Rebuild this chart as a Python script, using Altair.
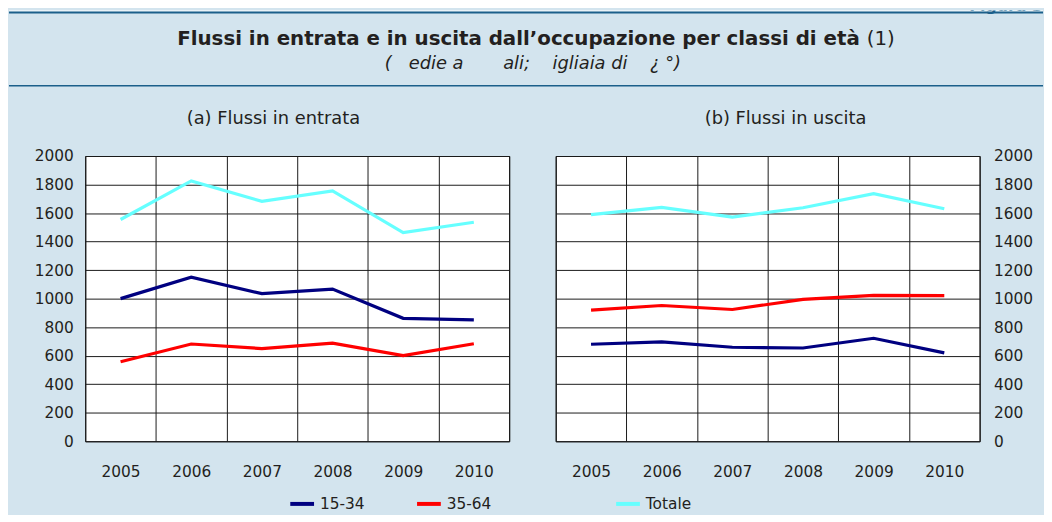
import altair as alt
import pandas as pd

# ---------------- data ----------------
years = ["2005", "2006", "2007", "2008", "2009", "2010"]
series = ["15-34", "35-64", "Totale"]

entrata_15_34 = [1000, 1150, 1035, 1067, 862, 851]
entrata_35_64 = [558, 682, 650, 688, 601, 684]
entrata_totale = [1555, 1825, 1682, 1755, 1463, 1536]

uscita_15_34 = [680, 697, 659, 654, 722, 620]
uscita_35_64 = [920, 952, 924, 995, 1023, 1021]
uscita_totale = [1589, 1640, 1572, 1637, 1736, 1630]

y_ticks = [0, 200, 400, 600, 800, 1000, 1200, 1400, 1600, 1800, 2000]
line_colors = ["#000080", "#FF0000", "#66FFFF"]

title_main = "Flussi in entrata e in uscita dall\u2019occupazione per classi di et\u00e0"
title_note = "(1)"
NB = "\u00a0"
subtitle = "(" + NB * 3 + "edie a" + NB * 7 + "ali;" + NB * 4 + "igliaia di" + NB * 4 + "\u00bf" + NB + "\u00b0)"
figura = "Figura 3"
panel_a = "(a) Flussi in entrata"
panel_b = "(b) Flussi in uscita"

rows = []
for pname, vals in [("entrata", [entrata_15_34, entrata_35_64, entrata_totale]),
                    ("uscita", [uscita_15_34, uscita_35_64, uscita_totale])]:
    for s, v in zip(series, vals):
        for yr, val in zip(years, v):
            rows.append({"pannello": pname, "serie": s, "anno": yr, "valore": val})
df = pd.DataFrame(rows)

# ---------------- style ----------------
FONT = "DejaVu Sans"
BLUE_BG = "#D3E4EE"
DARK = "#1B5F8A"
TXT = "#231F20"
GRID = "#1a1a1a"
FS = 15.5
LEFT_EXT = 77  # space left of the first panel's plot area

gap = NB * 15 + "\u200b"
color = alt.Color(
    "serie:N",
    scale=alt.Scale(domain=series, range=line_colors),
    legend=alt.Legend(
        title=None, orient="none", legendX=282 - LEFT_EXT, legendY=484, direction="horizontal",
        symbolType="stroke", symbolSize=576, symbolStrokeWidth=4,
        labelFontSize=FS, labelFont=FONT, labelColor=TXT, labelOffset=4,
        columnPadding=44, padding=0,
        labelExpr="datum.label == '35-64' ? '35-64" + gap + "' : datum.label",
    ),
)


def panel(name, title, dx, orient, extent, lpad):
    return (
        alt.Chart(df)
        .transform_filter(alt.datum.pannello == name)
        .mark_line(strokeWidth=3.2)
        .encode(
            x=alt.X(
                "anno:O",
                sort=years,
                scale=alt.Scale(type="band", paddingInner=0, paddingOuter=0),
                axis=alt.Axis(
                    title=None, labelAngle=0, tickBand="extent", grid=True, ticks=False,
                    tickSize=0, domain=False, labelPadding=24, labelFontSize=FS,
                    labelFont=FONT, labelColor=TXT, gridColor=GRID, gridWidth=1,
                    gridOpacity=1,
                ),
            ),
            y=alt.Y(
                "valore:Q",
                scale=alt.Scale(domain=[0, 2000], nice=False),
                axis=alt.Axis(
                    title=None, orient=orient, values=y_ticks, format="d", grid=True,
                    ticks=False, tickSize=0, domain=False, labelPadding=lpad,
                    labelFontSize=FS, labelFont=FONT, labelColor=TXT, gridColor=GRID,
                    gridWidth=1, gridOpacity=1, minExtent=extent, maxExtent=extent,
                ),
            ),
            color=color,
        )
        .properties(
            width=428,
            height=288,
            title=alt.TitleParams(
                title, fontSize=18, font=FONT, fontWeight="normal", color=TXT,
                offset=21, dx=dx, anchor="middle",
            ),
            view=alt.ViewBackground(fill="white", stroke="black", strokeWidth=1),
        )
    )


left = panel("entrata", panel_a, -24, "left", LEFT_EXT, 12)
right = panel("uscita", panel_b, 18, "right", 58, 14)

# ---------------- header ----------------
hd = alt.Data(values=[{}])
base = alt.Chart(hd)
W = 1044 - LEFT_EXT
X0 = -LEFT_EXT
white = base.mark_rect(color="white").encode(
    x=alt.value(X0), x2=alt.value(W), y=alt.value(0), y2=alt.value(1))
top_line = base.mark_rule(color=DARK, strokeWidth=2).encode(
    x=alt.value(X0), x2=alt.value(W), y=alt.value(2))
sep_line = base.mark_rule(color=DARK, strokeWidth=1.5).encode(
    x=alt.value(X0), x2=alt.value(W), y=alt.value(76))
fig = base.mark_text(
    text=figura, font=FONT, fontSize=16, fontWeight="bold", color=DARK,
    align="right", baseline="alphabetic", clip=True,
).encode(x=alt.value(W), y=alt.value(1))
t1 = base.mark_text(
    text=title_main, font=FONT, fontSize=20, fontWeight="bold", color=TXT,
    align="right", baseline="alphabetic",
).encode(x=alt.value(859 - LEFT_EXT), y=alt.value(35))
t2 = base.mark_text(
    text=title_note, font=FONT, fontSize=20, fontWeight="normal", color=TXT,
    align="left", baseline="alphabetic",
).encode(x=alt.value(866 - LEFT_EXT), y=alt.value(35))
t3 = base.mark_text(
    text=subtitle, font=FONT, fontSize=18, fontStyle="italic", color=TXT,
    align="center", baseline="alphabetic",
).encode(x=alt.value(529 - LEFT_EXT), y=alt.value(59))

header = alt.layer(white, top_line, sep_line, fig, t1, t2, t3).properties(
    width=W, height=77, view=alt.ViewBackground(strokeOpacity=0, fill=BLUE_BG)
)

panels = alt.hconcat(left, right, spacing=45)

chart = (
    alt.vconcat(header, panels, spacing=23)
    .properties(background=BLUE_BG, padding={"left": 0, "top": 0, "right": 0, "bottom": 0})
    .configure(font=FONT)
)

chart.save("out.html", embed_options={"renderer": "svg", "actions": False})
